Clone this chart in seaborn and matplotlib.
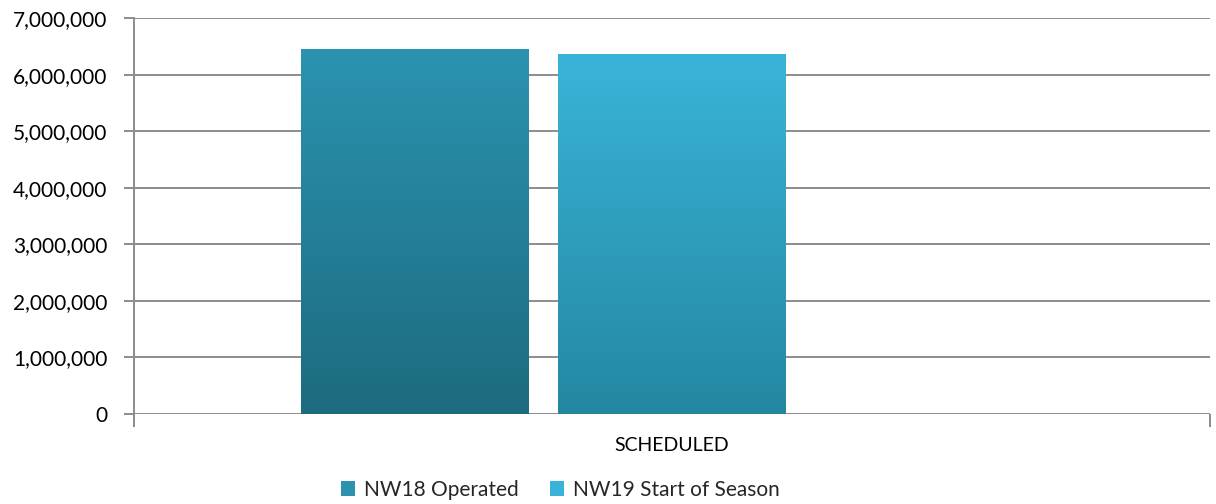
import matplotlib
matplotlib.use('Agg')
import matplotlib.pyplot as plt
import matplotlib.ticker as mticker
from matplotlib.colors import LinearSegmentedColormap
from matplotlib.patches import Patch
import numpy as np
import pandas as pd
import seaborn as sns

# Data
categories = ['SCHEDULED']
series = ['NW18 Operated', 'NW19 Start of Season', '']
values = [6450000, 6365000, np.nan]

# gradient colours (top, bottom) per series
grad_top = ['#2B93B0', '#39B4D8']
grad_bottom = ['#1D6B7F', '#2487A2']

df = pd.DataFrame({
    'cat': categories * len(series),
    'series': series,
    'value': values,
})

sns.set_theme(style='white')
plt.rcParams['font.family'] = ['Lato', 'DejaVu Sans']

fig = plt.figure(figsize=(12.16, 5.04), dpi=100)
ax = fig.add_axes([0.110, 0.179, 0.885, 0.785])

sns.barplot(data=df, x='cat', y='value', hue='series', hue_order=series,
            width=0.716, gap=0.113, ax=ax, legend=False, saturation=1)

# gradient fill clipped to each bar
bars = [p for p in ax.patches if not np.isnan(p.get_height()) and p.get_height() > 0]
for i, p in enumerate(bars):
    cmap = LinearSegmentedColormap.from_list('g', [grad_bottom[i], grad_top[i]])
    x0, y0 = p.get_x(), p.get_y()
    w, h = p.get_width(), p.get_height()
    grad = np.linspace(0, 1, 256).reshape(-1, 1)
    im = ax.imshow(grad, cmap=cmap, origin='lower', aspect='auto',
                   extent=[x0, x0 + w, y0, y0 + h], zorder=3)
    im.set_clip_path(p)
    p.set_facecolor('none')
    p.set_edgecolor('none')

ax.set_xlim(-0.5, 0.5)
ax.set_ylim(0, 7000000)
ax.yaxis.set_major_locator(mticker.MultipleLocator(1000000))
ax.yaxis.set_major_formatter(mticker.FuncFormatter(lambda v, p: f'{int(v):,}'))

ax.grid(axis='y', color='#8C8C8C', linewidth=1.4, zorder=0)
ax.set_axisbelow(True)
for s in ['top', 'right', 'bottom']:
    ax.spines[s].set_visible(False)
ax.spines['left'].set_color('#8C8C8C')
ax.spines['left'].set_linewidth(1.4)

ax.tick_params(axis='y', length=7, width=1.4, color='#8C8C8C', labelsize=15,
               labelcolor='#000000', pad=12, left=True)
ax.set_xticks([0])
ax.set_xticklabels(['SCHEDULED'])
ax.set_xticks([-0.5, 0.5], minor=True)
ax.tick_params(axis='x', which='major', length=0, labelsize=14, pad=17,
               labelcolor='#000000')
ax.tick_params(axis='x', which='minor', length=9, width=1.4, color='#8C8C8C',
               bottom=True)
ax.set_xlabel('')
ax.set_ylabel('')

handles = [Patch(facecolor=grad_top[i], edgecolor='none') for i in range(2)]
fig.legend(handles, series[:2], loc='center', ncol=2, frameon=False,
           bbox_to_anchor=(560 / 1216, 1 - 490 / 504), fontsize=15,
           handlelength=0.7, handleheight=0.7, handletextpad=0.4,
           columnspacing=1.5)

fig.savefig('out.png', dpi=100)
